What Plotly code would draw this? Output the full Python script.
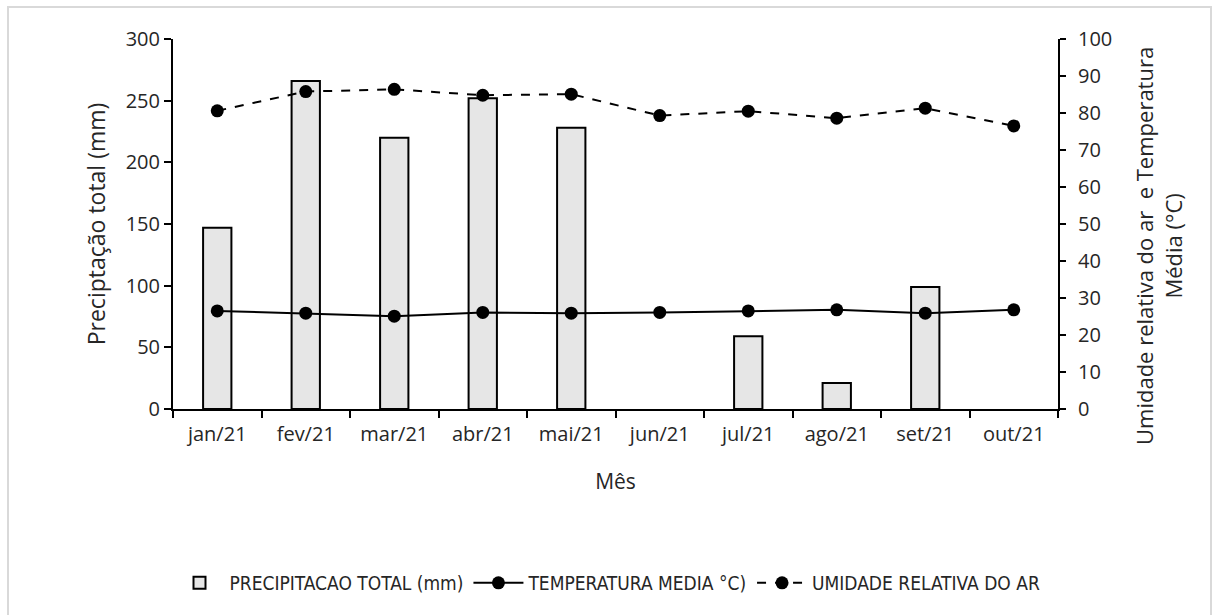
import plotly.graph_objects as go

# Monthly climate data, Jan–Oct 2021
meses = ["jan/21", "fev/21", "mar/21", "abr/21", "mai/21",
         "jun/21", "jul/21", "ago/21", "set/21", "out/21"]
precipitacao = [147, 266, 220, 252, 228, 0, 59, 21, 99, 0]
temperatura = [26.5, 25.9, 25.1, 26.1, 25.9, 26.1, 26.5, 26.8, 25.9, 26.8]
umidade = [80.6, 85.8, 86.4, 84.8, 85.1, 79.3, 80.5, 78.6, 81.3, 76.5]

FONT = "Open Sans"
LEG_FONT = "DejaVu Sans Condensed, Open Sans"
TXT = "#262626"
W, H = 1215, 615
L, R, T, B = 173, 157, 39, 206
PW, PH = W - L - R, H - T - B


def px_to_paper_x(px):
    return (px - L) / PW


def px_to_paper_y(py):
    return (H - B - py) / PH


fig = go.Figure()

# empty months get no outline so no flat line shows at zero
bar_outline = [2 if v > 0 else 0 for v in precipitacao]

fig.add_trace(go.Bar(
    x=meses, y=precipitacao, name="PRECIPITACAO TOTAL (mm)",
    marker=dict(color="#e6e6e6", line=dict(color="black", width=bar_outline)),
    width=0.32, yaxis="y",
))

fig.add_trace(go.Scatter(
    x=meses, y=temperatura, name="TEMPERATURA MEDIA °C)",
    mode="lines+markers",
    line=dict(color="black", width=2),
    marker=dict(color="black", size=13),
    yaxis="y2",
))

fig.add_trace(go.Scatter(
    x=meses, y=umidade, name="UMIDADE RELATIVA DO AR",
    mode="lines+markers",
    line=dict(color="black", width=2, dash="dash"),
    marker=dict(color="black", size=13),
    yaxis="y2",
))

# light grey chart-area frame
fig.add_shape(
    type="rect", xref="paper", yref="paper",
    x0=px_to_paper_x(8), x1=px_to_paper_x(1211),
    y0=px_to_paper_y(7), y1=px_to_paper_y(640),
    line=dict(color="#d9d9d9", width=2), fillcolor="rgba(0,0,0,0)",
    layer="below",
)

# right-hand axis title (two rotated lines)
fig.add_annotation(
    text="Umidade relativa do ar  e Temperatura<br>Média (°C)",
    xref="paper", yref="paper",
    x=px_to_paper_x(1158), y=px_to_paper_y(246),
    xanchor="center", yanchor="middle",
    textangle=-90, showarrow=False,
    font=dict(family=FONT, size=22, color=TXT),
)

fig.update_layout(
    width=W, height=H,
    margin=dict(l=L, r=R, t=T, b=B, autoexpand=False),
    paper_bgcolor="white", plot_bgcolor="white",
    font=dict(family=FONT, size=20, color=TXT),
    showlegend=True,
    legend=dict(
        orientation="h",
        xref="container", yref="container",
        x=0.5, xanchor="center",
        y=(H - 583) / H, yanchor="middle",
        font=dict(family=LEG_FONT, size=19, color=TXT),
        itemwidth=50, tracegroupgap=0,
    ),
    xaxis=dict(
        type="category", range=[-0.5, 9.5],
        showline=True, linecolor="black", linewidth=2,
        ticks="outside", tickson="boundaries", ticklen=7,
        tickwidth=2, tickcolor="black",
        showgrid=False, zeroline=False,
        ticklabelstandoff=6,
        tickfont=dict(family=FONT, size=20, color=TXT),
        title=dict(text="Mês", standoff=28,
                   font=dict(family=FONT, size=21, color=TXT)),
    ),
    yaxis=dict(
        range=[0, 300], dtick=50,
        showline=True, linecolor="black", linewidth=2,
        ticks="outside", ticklen=7, tickwidth=2, tickcolor="black",
        showgrid=False, zeroline=False,
        tickfont=dict(family=FONT, size=20, color=TXT),
        title=dict(text="Preciptação total (mm)", standoff=14,
                   font=dict(family=FONT, size=23, color=TXT)),
    ),
    yaxis2=dict(
        range=[0, 100], dtick=10,
        overlaying="y", side="right",
        showline=True, linecolor="black", linewidth=2,
        ticks="outside", ticklen=6, tickwidth=2, tickcolor="black",
        showgrid=False, zeroline=False,
        ticklabelstandoff=8,
        tickfont=dict(family=FONT, size=20, color=TXT),
    ),
)

fig.write_html("out.html")
